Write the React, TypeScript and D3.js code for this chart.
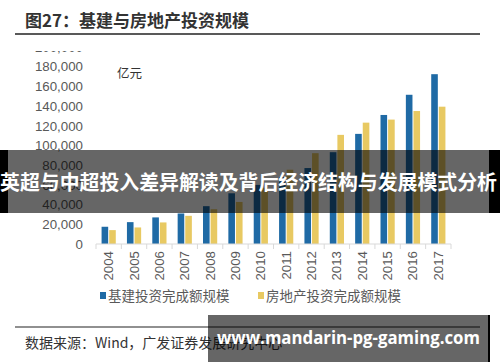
import { useEffect, useRef } from "react";
import * as d3 from "d3";

const years = ["2004", "2005", "2006", "2007", "2008", "2009", "2010", "2011", "2012", "2013", "2014", "2015", "2016", "2017"];
const infra = [17500, 22200, 27000, 31000, 38400, 51500, 60000, 68000, 77100, 93200, 111800, 131000, 151500, 172400];
const estate = [14100, 16800, 21900, 28600, 35300, 42700, 57000, 75400, 92200, 110800, 123200, 126300, 135000, 139400];
const yTicks = [0, 20000, 40000, 60000, 80000, 100000, 120000, 140000, 160000, 180000, 200000];
const seriesNames = ["基建投资完成额规模", "房地产投资完成额规模"];

const BLUE = "#1f6aa5";
const YELLOW = "#e8c962";
const CJK = "'Noto Sans CJK SC', sans-serif";
const LATIN = "'Liberation Sans', Arial, sans-serif";

export default function App() {
    const ref = useRef<SVGSVGElement>(null);

    useEffect(() => {
        const svg = d3.select(ref.current);
        svg.selectAll("*").remove();

        const x = d3.scaleBand().domain(years).range([96, 451]);
        const y = d3.scaleLinear().domain([0, 200000]).range([244, 47]);
        const bw = x.bandwidth() * 0.28;

        // title
        svg.append("text")
            .attr("x", 25).attr("y", 27)
            .attr("font-family", CJK).attr("font-weight", "bold")
            .attr("font-size", 17).attr("fill", "#333")
            .text("图27：基建与房地产投资规模");
        svg.append("line").attr("x1", 15).attr("x2", 480).attr("y1", 34).attr("y2", 34)
            .attr("stroke", "#222").attr("stroke-width", 1.5);

        // top of the plot is cut off in the source picture
        svg.append("clipPath").attr("id", "plotclip")
            .append("rect").attr("x", 0).attr("y", 51).attr("width", 500).attr("height", 250);
        const g = svg.append("g").attr("clip-path", "url(#plotclip)");

        g.selectAll(".ytick").data(yTicks).join("text")
            .attr("x", 83).attr("y", (d) => y(d)).attr("dy", "0.36em")
            .attr("text-anchor", "end")
            .attr("font-family", LATIN).attr("font-size", 13.3).attr("fill", "#595959")
            .text((d) => d3.format(",")(d));

        g.append("text").attr("x", 117).attr("y", 78)
            .attr("font-family", CJK).attr("font-size", 12.5).attr("fill", "#333")
            .text("亿元");

        g.selectAll(".b1").data(infra).join("rect")
            .attr("x", (_, i) => x(years[i])! + x.bandwidth() / 2 - bw)
            .attr("y", (d) => y(d)).attr("width", bw - 0.5)
            .attr("height", (d) => y(0) - y(d)).attr("fill", BLUE);
        g.selectAll(".b2").data(estate).join("rect")
            .attr("x", (_, i) => x(years[i])! + x.bandwidth() / 2 + 0.5)
            .attr("y", (d) => y(d)).attr("width", bw - 0.5)
            .attr("height", (d) => y(0) - y(d)).attr("fill", YELLOW);

        // x axis
        svg.append("line").attr("x1", 96).attr("x2", 451).attr("y1", y(0)).attr("y2", y(0))
            .attr("stroke", "#d9d9d9");
        svg.selectAll(".xsep").data([...years.map((d) => x(d)!), 451]).join("line")
            .attr("x1", (d) => d).attr("x2", (d) => d)
            .attr("y1", y(0)).attr("y2", y(0) + 5).attr("stroke", "#d9d9d9");
        svg.selectAll(".xlab").data(years).join("text")
            .attr("transform", (d) => `translate(${x(d)! + x.bandwidth() / 2 + 4.5},251) rotate(-90)`)
            .attr("text-anchor", "end")
            .attr("font-family", LATIN).attr("font-size", 13.3).attr("fill", "#595959")
            .text((d) => d);

        // legend
        const leg = [{ x: 100, c: BLUE }, { x: 258, c: YELLOW }];
        leg.forEach((l, i) => {
            svg.append("rect").attr("x", l.x).attr("y", 292).attr("width", 6).attr("height", 7).attr("fill", l.c);
            svg.append("text").attr("x", l.x + 8).attr("y", 300.5)
                .attr("font-family", CJK).attr("font-size", 13.5).attr("fill", "#595959")
                .text(seriesNames[i]);
        });

        // footer
        svg.append("line").attr("x1", 15).attr("x2", 480).attr("y1", 327).attr("y2", 327)
            .attr("stroke", "#222").attr("stroke-width", 1.2);
        svg.append("text").attr("x", 25).attr("y", 347.5)
            .attr("font-family", CJK).attr("font-size", 14).attr("fill", "#333")
            .text("数据来源：Wind，广发证券发展研究中心");

        // overlay banners (semi-transparent dark bands)
        svg.append("rect").attr("x", 0).attr("y", 150).attr("width", 8).attr("height", 63).attr("fill", "#000");
        svg.append("rect").attr("x", 489).attr("y", 150).attr("width", 11).attr("height", 63).attr("fill", "#000");
        svg.append("rect").attr("x", 8).attr("y", 150).attr("width", 481).attr("height", 63)
            .attr("fill", "#000").attr("fill-opacity", 0.6);
        svg.append("text").attr("x", 0).attr("y", 190)
            .attr("font-family", CJK).attr("font-weight", "bold").attr("font-size", 20).attr("fill", "#fff")
            .attr("textLength", 497).attr("lengthAdjust", "spacingAndGlyphs")
            .text("英超与中超投入差异解读及背后经济结构与发展模式分析");

        svg.append("rect").attr("x", 208).attr("y", 315).attr("width", 280).attr("height", 47)
            .attr("fill", "#000").attr("fill-opacity", 0.6);
        svg.append("rect").attr("x", 488).attr("y", 315).attr("width", 2).attr("height", 47).attr("fill", "#000");
        svg.append("text").attr("x", 217).attr("y", 343.5)
            .attr("font-family", "'Open Sans', sans-serif").attr("font-weight", "bold").attr("font-size", 18).attr("fill", "#fff")
            .attr("textLength", 263).attr("lengthAdjust", "spacingAndGlyphs")
            .text("www.mandarin-pg-gaming.com");
    }, []);

    return <svg ref={ref} width={500} height={362} style={{ position: "absolute", left: 0, top: 0, background: "#fff" }} />;
}
